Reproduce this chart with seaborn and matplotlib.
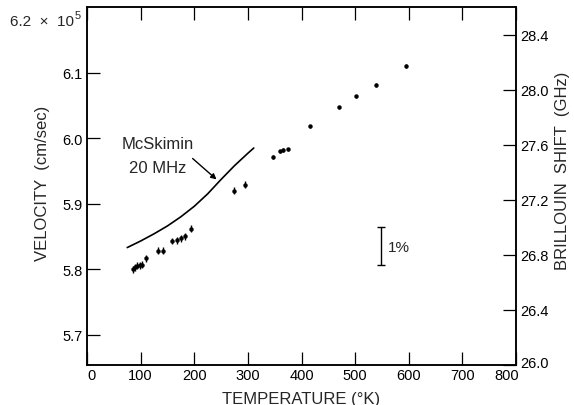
import matplotlib
matplotlib.use("Agg")
import matplotlib.pyplot as plt
import matplotlib.transforms as mtransforms
import seaborn as sns
import pandas as pd

# ---- data ----
temp_k = [85, 89.5, 94, 99, 103, 110.5, 133, 141, 159, 167, 175, 183, 194, 274, 295,
          347, 359, 366, 375, 415, 470, 502, 539, 595]
velocity = [5.800, 5.803, 5.805, 5.806, 5.807, 5.817, 5.828, 5.828, 5.843, 5.844, 5.847,
            5.850, 5.862, 5.920, 5.929,
            5.971, 5.980, 5.982, 5.983, 6.018, 6.047, 6.064, 6.081, 6.110]
vel_err = [0.0053] * 15 + [0.0026] * 9

mcskimin_t = [75, 100, 125, 150, 175, 200, 225, 250, 275, 300, 311]
mcskimin_v = [5.833, 5.843, 5.854, 5.866, 5.880, 5.896, 5.915, 5.937, 5.958, 5.977, 5.985]

x_ticks = [0, 100, 200, 300, 400, 500, 600, 700, 800]
v_ticks = [5.7, 5.8, 5.9, 6.0, 6.1]
v_tick_labels = ["5.7", "5.8", "5.9", "6.0", "6.1"]
f_ticks = [26.0, 26.4, 26.8, 27.2, 27.6, 28.0, 28.4]
f_tick_labels = ["26.0", "26.4", "26.8", "27.2", "27.6", "28.0", "28.4"]

one_pct_t = 548
one_pct_v = 5.8357
one_pct_half = 0.0287

sns.set_style("ticks")
plt.rcParams["font.family"] = ["Liberation Sans", "DejaVu Sans"]

fig = plt.figure(figsize=(5.74, 4.06), dpi=100)
ax = fig.add_axes([87 / 574, 40 / 406, 429 / 574, 358 / 406])

pts = pd.DataFrame({"T": temp_k, "v": velocity})
curve = pd.DataFrame({"T": mcskimin_t, "v": mcskimin_v})

sns.lineplot(data=curve, x="T", y="v", ax=ax, color="black", lw=1.2)
ax.errorbar(temp_k, velocity, yerr=vel_err, fmt="none", ecolor="black", elinewidth=1.0)
sns.scatterplot(data=pts, x="T", y="v", ax=ax, color="black", s=8, marker="o",
                edgecolor="black", linewidth=0.3, zorder=3)

# 1% bar
ax.errorbar([one_pct_t], [one_pct_v], yerr=[one_pct_half], fmt="none", ecolor="black",
            elinewidth=1.0, capsize=2.6, capthick=1.0)
ax.text(562, 5.834, "1%", fontsize=11, ha="left", va="center")

ax.text(132, 5.9916, "McSkimin", fontsize=12, ha="center", va="center")
ax.text(132, 5.955, "20 MHz", fontsize=12, ha="center", va="center")
ax.annotate("", xy=(241.5, 5.937), xytext=(197, 5.969),
            arrowprops=dict(arrowstyle="-|>", color="black", lw=1.0, mutation_scale=8,
                            shrinkA=0, shrinkB=0))

ax.set_xlim(0, 800)
ax.set_ylim(5.6537, 6.2003)
ax.set_xticks(x_ticks)
ax.set_xticklabels([str(t) for t in x_ticks])
ax.set_yticks(v_ticks)
ax.set_yticklabels(v_tick_labels)
ax.tick_params(axis="x", direction="in", length=9.5, width=0.9, top=True, labelsize=10.5,
               pad=2, colors="black")
ax.tick_params(axis="y", direction="in", length=9.5, width=0.9, right=False, labelsize=10.5,
               pad=3, colors="black")
for sp in ax.spines.values():
    sp.set_linewidth(1.1)
    sp.set_color("black")
    sp.set_visible(True)

ax.set_xlabel("TEMPERATURE (°K)", fontsize=12)
ax.xaxis.set_label_coords(0.5, -0.072)
ax.set_ylabel("VELOCITY  (cm/sec)", fontsize=12)
ax.yaxis.set_label_coords(-0.086, 0.511)

ax2 = ax.twinx()
ax2.set_ylim(26.0, 28.6)
ax2.set_yticks(f_ticks)
ax2.set_yticklabels(f_tick_labels)
ax2.tick_params(axis="y", direction="in", length=9.5, width=0.9, labelsize=10.5, pad=3,
                colors="black")
ax2.set_ylabel("BRILLOUIN  SHIFT  (GHz)", fontsize=12, rotation=90)
ax2.yaxis.set_label_coords(1.091, 0.545)
for sp in ax2.spines.values():
    sp.set_linewidth(1.1)
    sp.set_color("black")

# nudge end tick labels as in the reference
xlabels = ax.get_xticklabels()
xlabels[0].set_transform(xlabels[0].get_transform() +
                         mtransforms.ScaledTranslation(4 / 100, 0, fig.dpi_scale_trans))
xlabels[-1].set_transform(xlabels[-1].get_transform() +
                          mtransforms.ScaledTranslation(-9 / 100, 0, fig.dpi_scale_trans))
rlabels = ax2.get_yticklabels()
rlabels[0].set_transform(rlabels[0].get_transform() +
                         mtransforms.ScaledTranslation(0, 4 / 100, fig.dpi_scale_trans))

fig.text(74 / 574, 1 - 22 / 406, "6.2  ×  10", fontsize=11, ha="right", va="center")
fig.text(75 / 574, 1 - 16 / 406, "5", fontsize=8, ha="left", va="center")

fig.savefig("out.png", dpi=100)
